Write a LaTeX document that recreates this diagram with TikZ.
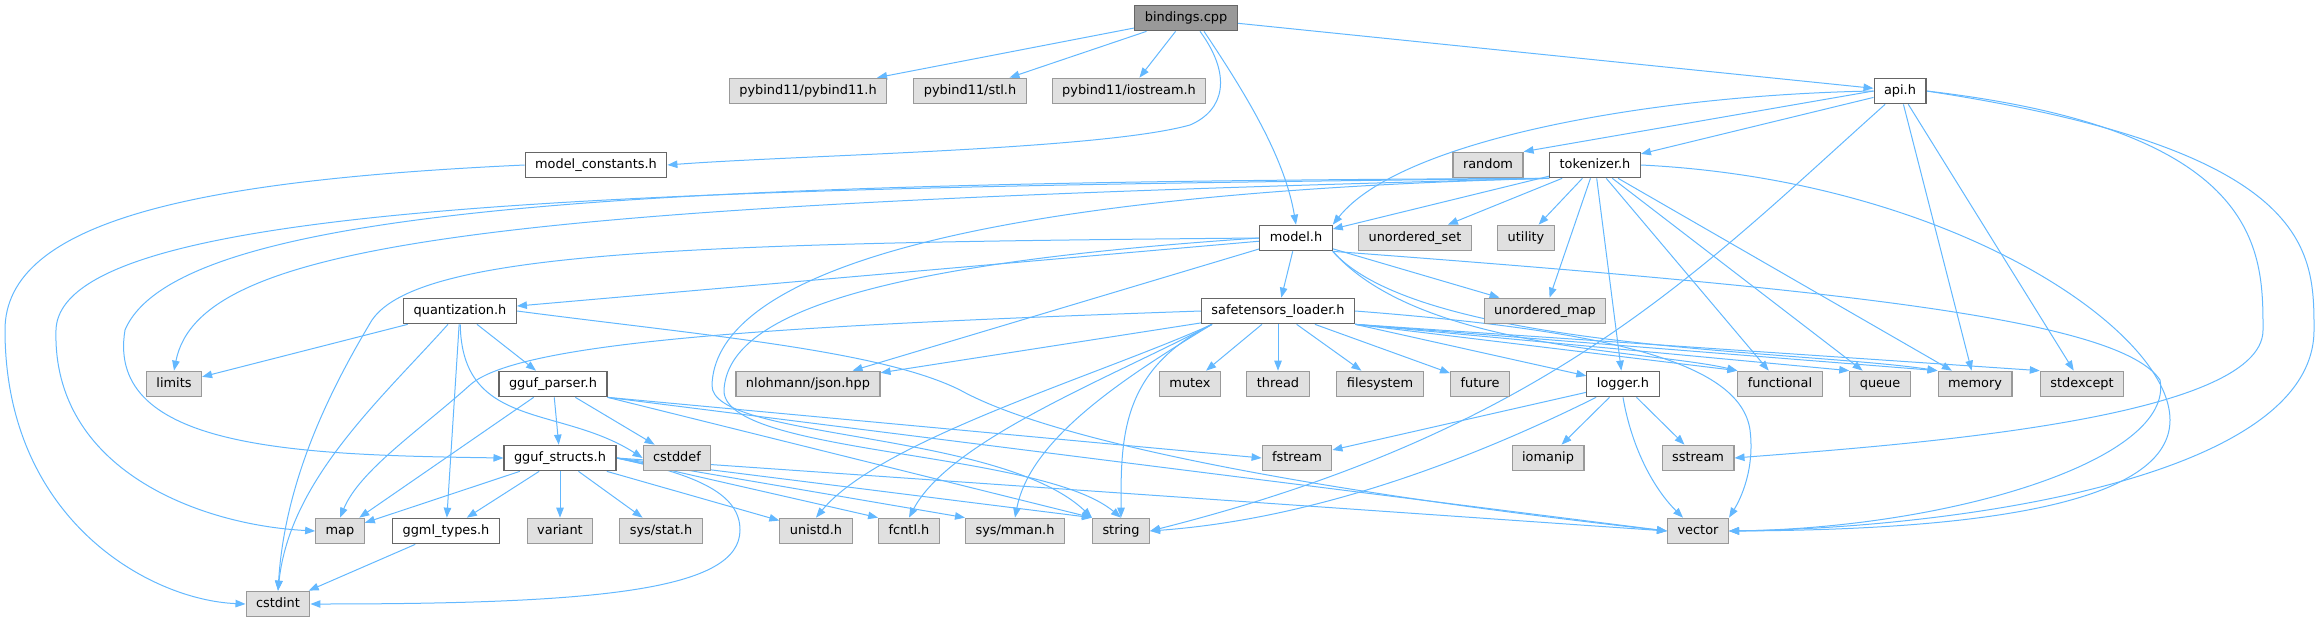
\documentclass[tikz,border=0pt]{standalone}
\usepackage{fontspec}
\setmainfont{DejaVu Sans}
\usetikzlibrary{arrows.meta,backgrounds}
\definecolor{edgeblue}{HTML}{63B8FF}
\definecolor{grayE0}{HTML}{E0E0E0}
\definecolor{gray99}{HTML}{999999}
\definecolor{gray66}{HTML}{666666}

\begin{document}
\begin{tikzpicture}
[x=1pt,y=-1pt,%
  every node/.style={shape=rectangle,draw,line width=1.1pt,inner xsep=10pt,inner ysep=0pt,
    minimum height=25.6pt,text height=9.8pt,text depth=3pt},%
  srcfile/.style={fill=white,draw=gray66},%
  sysfile/.style={fill=grayE0,draw=gray99},%
  mainfile/.style={fill=gray99,draw=gray66},%
  dep/.style={-{Triangle[length=10pt,width=7.5pt]},line width=1pt,draw=edgeblue}]
\fontsize{12.9}{15}\selectfont
\useasboundingbox (0,0) rectangle (2317,623);
\node[mainfile] (bind) at (1186,18) {bindings.cpp};
\node[sysfile] (pyb) at (808,91) {pybind11/pybind11.h};
\node[sysfile] (pystl) at (970,91) {pybind11/stl.h};
\node[sysfile] (pyio) at (1129,91) {pybind11/iostream.h};
\node[srcfile] (api) at (1900,91) {api.h};
\node[srcfile] (mconst) at (596,165) {model\_constants.h};
\node[sysfile] (random) at (1488,165) {random};
\node[srcfile] (tok) at (1595,165) {tokenizer.h};
\node[srcfile] (model) at (1296,238) {model.h};
\node[sysfile] (uset) at (1415,238) {unordered\_set};
\node[sysfile] (utility) at (1526,238) {utility};
\node[srcfile] (quant) at (460,311) {quantization.h};
\node[srcfile] (safet) at (1278,311) {safetensors\_loader.h};
\node[sysfile] (umap) at (1545,311) {unordered\_map};
\node[sysfile] (limits) at (174,384) {limits};
\node[srcfile] (gparser) at (553,384) {gguf\_parser.h};
\node[sysfile] (json) at (808,384) {nlohmann/json.hpp};
\node[sysfile] (mutex) at (1190,384) {mutex};
\node[sysfile] (thread) at (1278,384) {thread};
\node[sysfile] (fsys) at (1380,384) {filesystem};
\node[sysfile] (future) at (1480,384) {future};
\node[srcfile] (logger) at (1623,384) {logger.h};
\node[sysfile] (functional) at (1780,384) {functional};
\node[sysfile] (queue) at (1880,384) {queue};
\node[sysfile] (memory) at (1975,384) {memory};
\node[sysfile] (stdexcept) at (2082,384) {stdexcept};
\node[srcfile] (gstruct) at (560,458) {gguf\_structs.h};
\node[sysfile] (cstddef) at (677,458) {cstddef};
\node[sysfile] (fstream) at (1297,458) {fstream};
\node[sysfile] (iomanip) at (1548,458) {iomanip};
\node[sysfile] (sstream) at (1698,458) {sstream};
\node[sysfile] (map) at (340,531) {map};
\node[srcfile] (ggml) at (446,531) {ggml\_types.h};
\node[sysfile] (variant) at (560,531) {variant};
\node[sysfile] (sysstat) at (661,531) {sys/stat.h};
\node[sysfile] (unistd) at (816,531) {unistd.h};
\node[sysfile] (fcntl) at (909,531) {fcntl.h};
\node[sysfile] (mman) at (1015,531) {sys/mman.h};
\node[sysfile] (string) at (1121,531) {string};
\node[sysfile] (vector) at (1698,531) {vector};
\node[sysfile] (cstdint) at (278,604) {cstdint};

\begin{pgfonlayer}{background}
\draw[dep] (bind) -- (pyb);
\draw[dep] (bind) -- (pystl);
\draw[dep] (bind) -- (pyio);
\draw[dep] (bind) -- (api);
\draw[dep] ([xshift=14pt]bind.south) .. controls (1232,75) and (1225,110) .. (1190,125)
  .. controls (1100,150) and (800,155) .. (mconst.east);
\draw[dep] ([xshift=18pt]bind.south) .. controls (1250,100) and (1285,160) .. (model.north);

\draw[dep] (api.west) .. controls (1650,95) and (1400,140) .. (model.north east);
\draw[dep] (api.west) -- (random.north east);
\draw[dep] (api) -- (tok);
\draw[dep] (api) -- (memory);
\draw[dep] (api) -- (stdexcept);
\draw[dep] (api) .. controls (1700,270) and (1550,430) .. (string.east);
\draw[dep] (api.east) .. controls (2263,130) and (2263,250) .. (2263,330)
  .. controls (2263,420) and (1900,445) .. (sstream.east);
\draw[dep] (api.east) .. controls (2314,150) and (2314,250) .. (2314,330)
  .. controls (2314,480) and (1950,528) .. (vector.east);

\draw[dep] (mconst.west) .. controls (200,180) and (5,220) .. (5,330)
  .. controls (5,520) and (150,600) .. (cstdint.west);

\draw[dep] (tok) -- (model);
\draw[dep] (tok) -- (uset);
\draw[dep] (tok) -- (utility);
\draw[dep] (tok) -- (umap);
\draw[dep] (tok) -- (logger);
\draw[dep] (tok) -- (functional);
\draw[dep] (tok) -- (queue);
\draw[dep] (tok) -- (memory);
\draw[dep] (tok.east) .. controls (1950,180) and (2170,330) .. (2170,420)
  .. controls (2170,510) and (1950,530) .. (vector.east);
\draw[dep] (tok.south west) .. controls (700,182) and (180,200) .. (125,330)
  .. controls (105,450) and (300,455) .. (gstruct.west);
\draw[dep] (tok.south west) .. controls (650,188) and (60,200) .. (56,330)
  .. controls (52,470) and (200,525) .. (map.west);
\draw[dep] (tok.south west) .. controls (500,205) and (200,240) .. (limits.north);
\draw[dep] (tok.south west) .. controls (900,195) and (715,290) .. (712,385)
  .. controls (710,440) and (1000,430) .. (string.north west);

\draw[dep] (model) -- (safet);
\draw[dep] (model) -- (umap);
\draw[dep] (model) -- (quant);
\draw[dep] (model) -- (json);
\draw[dep] (model.west) .. controls (850,265) and (728,320) .. (724,390)
  .. controls (722,455) and (1040,450) .. (string.north);
\draw[dep] (model.west) .. controls (700,243) and (420,250) .. (372,320)
  .. controls (330,390) and (285,480) .. (cstdint.north);
\draw[dep] (model.south east) .. controls (1850,290) and (2120,320) .. (2160,380)
  .. controls (2175,460) and (1950,528) .. (vector.east);
\draw[dep] (model.south east) .. controls (1420,350) and (1650,350) .. (functional.north west);
\draw[dep] (model.south east) .. controls (1420,350) and (1800,350) .. (memory.north west);

\draw[dep] (quant) -- (limits);
\draw[dep] (quant) -- (gparser);
\draw[dep] (quant) -- (ggml);
\draw[dep] (quant) .. controls (462,430) and (560,405) .. (cstddef.west);
\draw[dep] (quant) .. controls (380,400) and (290,480) .. (cstdint.north);
\draw[dep] (quant.east) .. controls (700,335) and (880,350) .. (960,390)
  .. controls (1050,440) and (1300,490) .. (vector.west);

\draw[dep] (safet) -- (json);
\draw[dep] (safet) -- (mutex);
\draw[dep] (safet) -- (thread);
\draw[dep] (safet) -- (fsys);
\draw[dep] (safet) -- (future);
\draw[dep] (safet.south east) -- (logger);
\draw[dep] (safet.south east) -- (functional.north west);
\draw[dep] (safet.south east) -- (queue.north west);
\draw[dep] (safet.south east) -- (memory.north west);
\draw[dep] (safet.south east) -- (stdexcept.north west);
\draw[dep] (safet.west) .. controls (800,325) and (520,340) .. (470,385)
  .. controls (420,430) and (360,470) .. (map.north);
\draw[dep] ([xshift=-66pt]safet.south) .. controls (1100,375) and (880,440) .. (unistd.north);
\draw[dep] ([xshift=-66pt]safet.south) .. controls (1110,378) and (950,440) .. (fcntl.north);
\draw[dep] ([xshift=-66pt]safet.south) .. controls (1120,380) and (1030,440) .. (mman.north);
\draw[dep] ([xshift=-66pt]safet.south) .. controls (1120,370) and (1121,440) .. (string.north);
\draw[dep] (safet.east) .. controls (1600,330) and (1740,360) .. (1750,430)
  .. controls (1755,470) and (1740,500) .. (vector.north east);

\draw[dep] (gparser) -- (gstruct);
\draw[dep] (gparser) -- (cstddef);
\draw[dep] (gparser) -- (map);
\draw[dep] (gparser.south east) -- (fstream.west);
\draw[dep] (gparser.south east) -- (string.north west);
\draw[dep] (gparser.south east) -- (vector.west);

\draw[dep] (gstruct) -- (map);
\draw[dep] (gstruct) -- (ggml);
\draw[dep] (gstruct) -- (variant);
\draw[dep] (gstruct) -- (sysstat);
\draw[dep] (gstruct) -- (unistd);
\draw[dep] (gstruct.east) -- (fcntl.north west);
\draw[dep] (gstruct.east) -- (mman.north west);
\draw[dep] (gstruct.east) -- (string.north west);
\draw[dep] (gstruct.east) -- (vector.west);
\draw[dep] (gstruct.east) .. controls (700,475) and (740,495) .. (740,530)
  .. controls (740,590) and (600,604) .. (cstdint.east);

\draw[dep] (logger) -- (iomanip);
\draw[dep] (logger) -- (sstream);
\draw[dep] (logger) -- (fstream);
\draw[dep] (logger.south) .. controls (1632,450) and (1655,490) .. ([xshift=-15pt]vector.north);
\draw[dep] (logger) .. controls (1450,470) and (1300,520) .. (string.east);

\draw[dep] (ggml) -- (cstdint);
\end{pgfonlayer}
\end{tikzpicture}
\end{document}
